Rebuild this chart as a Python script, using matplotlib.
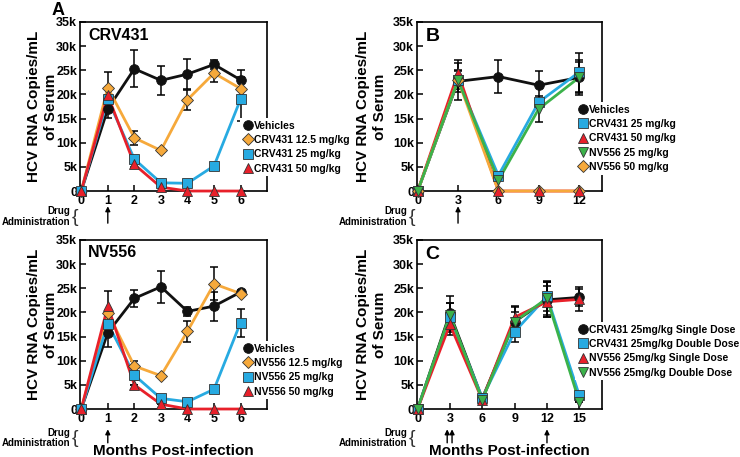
import matplotlib
matplotlib.use("Agg")
import matplotlib.pyplot as plt
from matplotlib.lines import Line2D

plt.rcParams['font.family'] = ['Liberation Sans', 'DejaVu Sans']
plt.rcParams['font.weight'] = 'bold'

# values in thousands of copies/mL
months_6 = [0, 1, 2, 3, 4, 5, 6]
months_12 = [0, 3, 6, 9, 12]
months_15 = [0, 3, 6, 9, 12, 15]

# panel A top: CRV431
veh_a = [0, 17.0, 25.3, 22.9, 24.2, 26.2, 23.0]
veh_a_err = [0, 1.8, 3.8, 3.0, 3.1, 1.0, 2.0]
crv12_a = [0, 21.4, 11.0, 8.4, 18.9, 24.4, 21.2]
crv12_a_err = [0, 3.2, 1.4, 0.4, 2.1, 1.8, 0]
crv25_a = [0, 19.0, 6.6, 1.7, 1.6, 5.2, 19.0]
crv25_a_err = [0, 0, 0.4, 0, 0, 0, 4.5]
crv50_a = [0, 19.8, 5.5, 0.8, 0, 0, 0]
crv50_a_err = [0, 0, 0.5, 0, 0, 0, 0]

# panel A bottom: NV556
veh_n = [0, 15.8, 22.9, 25.3, 20.2, 21.3, 24.2]
veh_n_err = [0, 2.9, 1.7, 3.3, 1.0, 3.0, 0.4]
nv12_n = [0, 19.9, 8.9, 6.9, 16.1, 25.9, 23.9]
nv12_n_err = [0, 0, 1.0, 0, 2.2, 3.4, 0]
nv25_n = [0, 17.7, 7.0, 2.2, 1.5, 4.1, 17.9]
nv25_n_err = [0, 0, 0.9, 0, 0, 0, 2.9]
nv50_n = [0, 21.3, 5.0, 1.0, 0, 0, 0]
nv50_n_err = [0, 3.1, 0, 0, 0, 0, 0]

# panel B
veh_b = [0, 22.7, 23.7, 21.9, 23.5]
veh_b_err = [0, 2.3, 3.5, 2.9, 3.6]
crv25_b = [0, 23.0, 3.2, 18.4, 24.6]
crv25_b_err = [0, 4.1, 0.4, 0, 4.0]
crv50_b = [0, 24.4, 0, 0, 0]
crv50_b_err = [0, 2.0, 0, 0, 0]
nv25_b = [0, 23.0, 2.2, 17.0, 23.5]
nv25_b_err = [0, 1.8, 0, 2.7, 3.3]
nv50_b = [0, 23.0, 0, 0, 0]
nv50_b_err = [0, 0, 0, 0, 0]

# panel C
crv_single = [0, 19.8, 2.2, 18.1, 22.6, 23.1]
crv_single_err = [0, 3.5, 0, 3.0, 3.6, 1.7]
crv_double = [0, 19.0, 2.3, 16.0, 23.3, 2.8]
crv_double_err = [0, 3.0, 0.3, 2.1, 3.1, 0.8]
nv_single = [0, 17.5, 1.9, 19.0, 22.2, 22.7]
nv_single_err = [0, 2.2, 0, 2.3, 3.2, 2.5]
nv_double = [0, 19.5, 1.9, 18.1, 22.9, 1.5]
nv_double_err = [0, 2.5, 0, 2.0, 3.4, 0]

yticks = [0, 5, 10, 15, 20, 25, 30, 35]
ytick_labels = ['0', '5k', '10k', '15k', '20k', '25k', '30k', '35k']

BLACK = '#111111'
ORANGE = '#F6A93B'
BLUE = '#27AAE1'
RED = '#E8202A'
GREEN = '#3BB24A'

fig = plt.figure(figsize=(7.4, 4.57), dpi=100)
ax_a = fig.add_axes([0.108, 0.582, 0.253, 0.370])
ax_n = fig.add_axes([0.108, 0.105, 0.253, 0.370])
ax_b = fig.add_axes([0.5635, 0.582, 0.25, 0.370])
ax_c = fig.add_axes([0.5635, 0.105, 0.25, 0.370])


def series(ax, x, y, err, color, marker, ms, z, mz=None):
    edge = '#333333' if color != BLACK else BLACK
    if any(e > 0 for e in err):
        ax.errorbar(x, y, yerr=err, fmt='none', ecolor='k', elinewidth=1.1,
                    capsize=3, capthick=1.1, zorder=2)
    # line and markers drawn separately so markers sit above all lines
    ax.plot(x, y, color=color, lw=2, zorder=z, clip_on=False)
    ax.plot(x, y, ls='none', marker=marker, ms=ms, mfc=color, mec=edge,
            mew=0.6, zorder=(mz if mz is not None else z + 10), clip_on=False)
    return Line2D([], [], ls='none', marker=marker, ms=ms, mfc=color,
                  mec=edge, mew=0.6)


def style(ax, xticks, xmax, ylab_x):
    ax.set_xlim(-0.05, xmax)
    ax.set_ylim(0, 35)
    ax.set_xticks(xticks)
    ax.set_yticks(yticks)
    ax.set_yticklabels(ytick_labels)
    ax.tick_params(direction='in', length=4, width=1.1, labelsize=9, pad=2)
    ax.tick_params(axis='x', pad=3)
    for s in ax.spines.values():
        s.set_linewidth(1.2)
    ax.set_ylabel('HCV RNA Copies/mL\nof Serum', fontsize=11,
                  fontweight='bold', linespacing=1.3)
    ax.yaxis.set_label_coords(ylab_x, 0.5)


def drug_marks(ax, xs, y0, y1):
    ax.text(-0.05, (y0 + y1) / 2 - 0.01, 'Drug\nAdministration', transform=ax.transAxes,
            ha='right', va='center', fontsize=7, multialignment='right',
            linespacing=1.05)
    ax.text(-0.045, (y0 + y1) / 2 - 0.015, '{', transform=ax.transAxes, ha='left',
            va='center', fontsize=14, fontweight='light', color='#333333')
    for x in xs:
        ax.annotate('', xy=(x, y0), xycoords=('data', 'axes fraction'),
                    xytext=(x, y1), textcoords=('data', 'axes fraction'),
                    arrowprops=dict(arrowstyle='-|>', color='k', lw=1,
                                    mutation_scale=7, shrinkA=0, shrinkB=0),
                    annotation_clip=False)


def legend(ax, handles, labels, x, y):
    lg = ax.legend(handles, labels, loc='upper left', bbox_to_anchor=(x, y),
                   fontsize=7.5, handletextpad=0.1, handlelength=1.0,
                   labelspacing=0.42, borderpad=0.25, borderaxespad=0,
                   frameon=True, framealpha=1, fancybox=False)
    lg.get_frame().set_edgecolor('none')
    lg.get_frame().set_facecolor('white')
    lg.set_zorder(30)


# panel A top
h = [series(ax_a, months_6, veh_a, veh_a_err, BLACK, 'o', 7, 3),
     series(ax_a, months_6, crv12_a, crv12_a_err, ORANGE, 'D', 6.5, 4),
     series(ax_a, months_6, crv25_a, crv25_a_err, BLUE, 's', 6.5, 5),
     series(ax_a, months_6, crv50_a, crv50_a_err, RED, '^', 7.5, 6)]
style(ax_a, months_6, 7.0, -0.118)
legend(ax_a, h, ['Vehicles', 'CRV431 12.5 mg/kg', 'CRV431 25 mg/kg', 'CRV431 50 mg/kg'],
       0.855, 0.432)
ax_a.text(0.045, 0.965, 'CRV431', transform=ax_a.transAxes, fontsize=11.5,
          va='top', ha='left')
drug_marks(ax_a, [1], -0.09, -0.19)

# panel A bottom
h = [series(ax_n, months_6, veh_n, veh_n_err, BLACK, 'o', 7, 3),
     series(ax_n, months_6, nv12_n, nv12_n_err, ORANGE, 'D', 6.5, 4),
     series(ax_n, months_6, nv25_n, nv25_n_err, BLUE, 's', 6.5, 5),
     series(ax_n, months_6, nv50_n, nv50_n_err, RED, '^', 7.5, 6)]
style(ax_n, months_6, 7.0, -0.118)
legend(ax_n, h, ['Vehicles', 'NV556 12.5 mg/kg', 'NV556 25 mg/kg', 'NV556 50 mg/kg'],
       0.855, 0.402)
ax_n.text(0.045, 0.97, 'NV556', transform=ax_n.transAxes, fontsize=11.5,
          va='top', ha='left')
drug_marks(ax_n, [1], -0.12, -0.2)
ax_n.text(0.5, -0.25, 'Months Post-infection', transform=ax_n.transAxes,
          ha='center', va='center', fontsize=11)

# panel B (orange line over red line, red markers over orange markers)
h = [series(ax_b, months_12, veh_b, veh_b_err, BLACK, 'o', 7, 3),
     series(ax_b, months_12, crv25_b, crv25_b_err, BLUE, 's', 6.5, 4),
     series(ax_b, months_12, crv50_b, crv50_b_err, RED, '^', 7.5, 4.5, 16),
     series(ax_b, months_12, nv25_b, nv25_b_err, GREEN, 'v', 7.5, 6),
     series(ax_b, months_12, nv50_b, nv50_b_err, ORANGE, 'D', 6.5, 5, 14)]
style(ax_b, months_12, 13.7, -0.162)
legend(ax_b, h, ['Vehicles', 'CRV431 25 mg/kg', 'CRV431 50 mg/kg', 'NV556 25 mg/kg',
                 'NV556 50 mg/kg'], 0.855, 0.527)
ax_b.text(0.045, 0.965, 'B', transform=ax_b.transAxes, fontsize=14,
          va='top', ha='left')
drug_marks(ax_b, [3], -0.09, -0.19)

# panel C
h = [series(ax_c, months_15, crv_single, crv_single_err, BLACK, 'o', 7, 3),
     series(ax_c, months_15, crv_double, crv_double_err, BLUE, 's', 6.5, 4),
     series(ax_c, months_15, nv_single, nv_single_err, RED, '^', 7.5, 5),
     series(ax_c, months_15, nv_double, nv_double_err, GREEN, 'v', 7.5, 6)]
style(ax_c, months_15, 17.1, -0.162)
legend(ax_c, h, ['CRV431 25mg/kg Single Dose', 'CRV431 25mg/kg Double Dose',
                 'NV556 25mg/kg Single Dose', 'NV556 25mg/kg Double Dose'],
       0.855, 0.515)
ax_c.text(0.045, 0.965, 'C', transform=ax_c.transAxes, fontsize=14,
          va='top', ha='left')
drug_marks(ax_c, [2.75, 3.2, 12], -0.12, -0.2)
ax_c.text(0.5, -0.25, 'Months Post-infection', transform=ax_c.transAxes,
          ha='center', va='center', fontsize=11)

fig.text(0.07, 0.995, 'A', fontsize=13, fontweight='bold', va='top', ha='left')

fig.savefig('out.png', dpi=100)
